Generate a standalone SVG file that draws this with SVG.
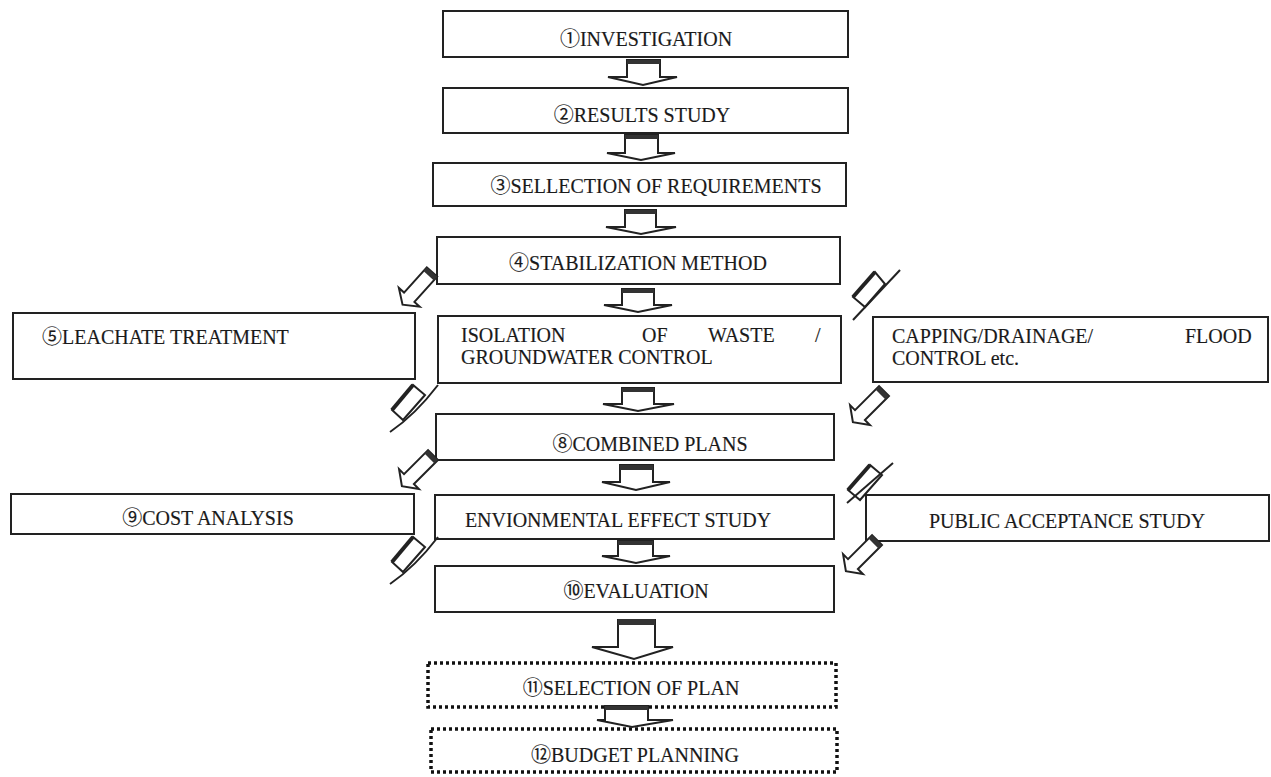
<svg xmlns="http://www.w3.org/2000/svg" width="1271" height="777" viewBox="0 0 1271 777">
<defs>
<style>
.box{fill:#fff;stroke:#222;stroke-width:2}
.dot{fill:#fff;stroke:#111;stroke-width:3.5;stroke-dasharray:3 3}
.t{font-family:"Liberation Serif","Times New Roman","Noto Sans CJK JP",serif;font-size:20px;fill:#1a1a1a;stroke:#1a1a1a;stroke-width:0.15}
.m{text-anchor:middle}
.arr{fill:#fff;stroke:#222;stroke-width:2;stroke-linejoin:miter}
.cap{fill:#333}
.ln{fill:none;stroke:#222;stroke-width:2}
.thick{fill:none;stroke:#222;stroke-width:4}
</style>
<g id="diag">
<path class="arr" d="M0,-7 L34,-7 L34,-14 L44,0 L34,14 L34,7 L0,7 Z"/>
<rect class="cap" x="0" y="-7" width="5" height="14"/>
</g>
</defs>
<rect width="1271" height="777" fill="#fff"/>

<g id="n1"><rect class="box" x="443" y="11" width="405" height="46"/><text class="t m" x="646" y="46">①INVESTIGATION</text></g>
<g id="n2"><rect class="box" x="443" y="88" width="405" height="45"/><text class="t m" x="642" y="122">②RESULTS STUDY</text></g>
<g id="n3"><rect class="box" x="433" y="163" width="413" height="43"/><text class="t m" x="656" y="193">③SELLECTION OF REQUIREMENTS</text></g>
<g id="n4"><rect class="box" x="437" y="237" width="403" height="47"/><text class="t m" x="638" y="270">④STABILIZATION METHOD</text></g>
<g id="n5"><rect class="box" x="13" y="313" width="402" height="66"/><text class="t" x="42" y="344">⑤LEACHATE TREATMENT</text></g>
<g id="n6"><rect class="box" x="438" y="316" width="403" height="67"/>
<text class="t" x="461" y="342">ISOLATION</text><text class="t" x="642" y="342">OF</text><text class="t" x="708" y="342">WASTE</text><text class="t" x="815" y="342">/</text>
<text class="t" x="461" y="364">GROUNDWATER CONTROL</text></g>
<g id="n7"><rect class="box" x="873" y="317" width="395" height="65"/>
<text class="t" x="892" y="343">CAPPING/DRAINAGE/</text><text class="t" x="1185" y="343">FLOOD</text>
<text class="t" x="892" y="365">CONTROL etc.</text></g>
<g id="n8"><rect class="box" x="436" y="414" width="398" height="46"/><text class="t m" x="650" y="451">⑧COMBINED PLANS</text></g>
<g id="n9"><rect class="box" x="11" y="494" width="403" height="40"/><text class="t m" x="208" y="525">⑨COST ANALYSIS</text></g>
<g id="n10"><rect class="box" x="435" y="495" width="399" height="44"/><text class="t m" x="618" y="527">ENVIONMENTAL EFFECT STUDY</text></g>
<g id="n11"><rect class="box" x="866" y="495" width="403" height="46"/><text class="t m" x="1067" y="528">PUBLIC ACCEPTANCE STUDY</text></g>
<g id="n12"><rect class="box" x="435" y="566" width="399" height="46"/><text class="t m" x="636" y="598">⑩EVALUATION</text></g>
<g id="n13"><rect class="dot" x="428" y="663" width="408" height="44"/><text class="t m" x="631" y="695">⑪SELECTION OF PLAN</text></g>
<g id="n14"><rect class="dot" x="431" y="729" width="406" height="43"/><text class="t m" x="635" y="762">⑫BUDGET PLANNING</text></g>

<g id="connectors">
<path class="arr" d="M627,60 L627,77 L608,77 L643,85 L677,77 L660,77 L660,60 Z"/><rect class="cap" x="627" y="60" width="33" height="4"/>
<path class="arr" d="M625,135 L625,153 L607,153 L641,160 L675,153 L658,153 L658,135 Z"/><rect class="cap" x="625" y="135" width="33" height="4"/>
<path class="arr" d="M625,210 L625,227 L606,227 L641,234 L676,227 L656,227 L656,210 Z"/><rect class="cap" x="625" y="210" width="31" height="4"/>
<path class="arr" d="M622,289 L622,305 L604,305 L638,312 L672,305 L654,305 L654,289 Z"/><rect class="cap" x="622" y="289" width="32" height="4"/>
<path class="arr" d="M622,388 L622,404 L603,404 L638,411 L674,404 L654,404 L654,388 Z"/><rect class="cap" x="622" y="388" width="32" height="4"/>
<path class="arr" d="M620,465 L620,482 L602,482 L636,490 L670,482 L653,482 L653,465 Z"/><rect class="cap" x="620" y="465" width="33" height="5"/>
<path class="arr" d="M618,541 L618,556 L602,556 L636,563 L670,556 L653,556 L653,541 Z"/><rect class="cap" x="618" y="541" width="35" height="4"/>
<path class="arr" d="M618,620 L618,647 L592,647 L634,659 L673,647 L655,647 L655,620 Z"/><rect class="cap" x="618" y="619" width="37" height="6"/>
<path class="arr" d="M605,706 L605,720 L597,720 L632,727 L673,720 L648,720 L648,706 Z"/><rect class="cap" x="605" y="706" width="43" height="4"/>

<use href="#diag" transform="translate(432,272) rotate(132)"/>
<use href="#diag" transform="translate(884,391) rotate(135)"/>
<use href="#diag" transform="translate(433,455) rotate(135)"/>
<use href="#diag" transform="translate(877,540) rotate(135)"/>

<path class="arr" d="M875,272 L853,297 L865,307 L885,284 Z"/><path class="thick" d="M875,272 L853,297"/><path class="ln" d="M900,270 L853,320"/>
<path class="arr" d="M870,465 L848,490 L860,500 L882,475 Z"/><path class="thick" d="M870,465 L848,490"/><path class="ln" d="M893,463 L847,503"/>
<path class="arr" d="M413,385 L392,410 L403,420 L425,395 Z"/><path class="thick" d="M413,385 L392,410"/><path class="ln" d="M438,385 Q415,415 390,432"/>
<path class="arr" d="M413,537 L392,562 L403,572 L425,547 Z"/><path class="thick" d="M413,537 L392,562"/><path class="ln" d="M438,537 Q415,567 390,584"/>
</g>
</svg>
